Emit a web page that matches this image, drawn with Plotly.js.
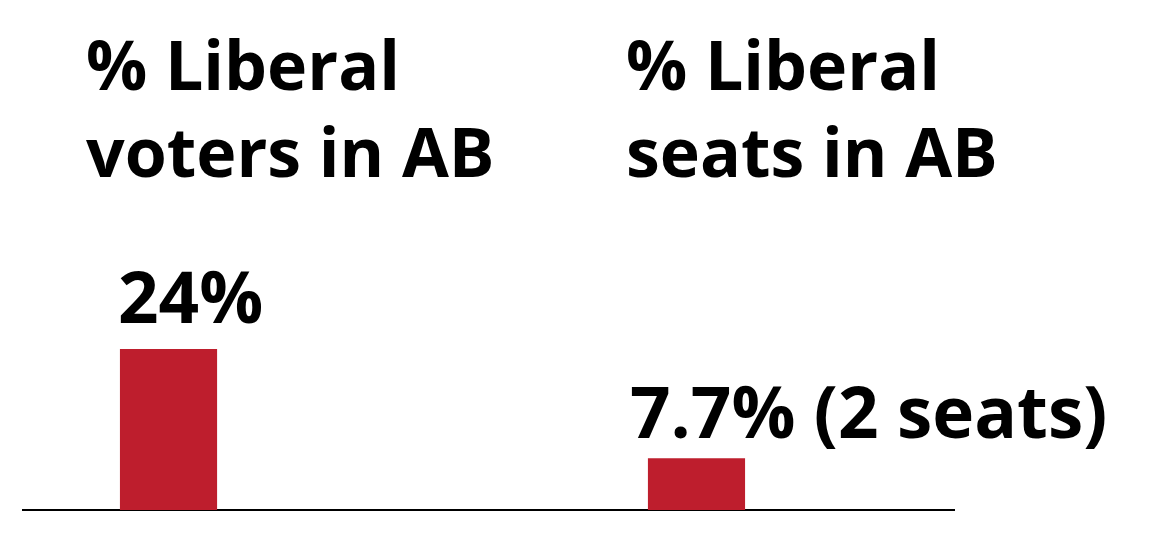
<!DOCTYPE html>
<html><head><meta charset="utf-8">
<script src="https://cdn.plot.ly/plotly-3.0.1.min.js"></script>
<style>html,body{margin:0;padding:0;background:#fff;}#chart{width:1153px;height:551px;}</style>
</head><body><div id="chart"></div>
<script>
const categories = ["voters", "seats"];
const values = [24, 7.7];
const valueLabels = ["24%", "7.7% (2 seats)"];
const titleLine1 = ["% Liberal", "% Liberal"];
const titleLine2 = ["voters in AB", "seats in AB"];

const FONT = "'Open Sans', sans-serif";
const RED = "#be1e2d";
const FS = 68;
const FSV = 71;

const annotations = [];
const titleX = [0.0664, 0.6453];
for (let i = 0; i < 2; i++) {
  annotations.push({xref:'paper', yref:'paper', x:titleX[i], y:(510-63)/510, xanchor:'left', yanchor:'middle',
    text:'<b>'+titleLine1[i]+'</b>', showarrow:false, font:{family:FONT, size:FS, color:'#000'}});
  annotations.push({xref:'paper', yref:'paper', x:titleX[i], y:(510-151)/510, xanchor:'left', yanchor:'middle',
    text:'<b>'+titleLine2[i]+'</b>', showarrow:false, font:{family:FONT, size:FS, color:'#000'}});
}
const labelShift = [-4, -20];
const labelGap = [3, -3];
for (let i = 0; i < 2; i++) {
  annotations.push({xref:'x', yref:'y', x:i - 0.092, y:values[i], xanchor:'left', yanchor:'bottom',
    xshift:labelShift[i], yshift:labelGap[i],
    text:'<b>'+valueLabels[i]+'</b>', showarrow:false, font:{family:FONT, size:FSV, color:'#000'}});
}

const trace = {
  type:'bar', x:[0,1], y:values, width:0.184,
  marker:{color:RED}, hoverinfo:'skip'
};

const layout = {
  width:1153, height:551,
  margin:{l:22, r:198, t:0, b:41},
  paper_bgcolor:'#fff', plot_bgcolor:'#fff',
  showlegend:false,
  xaxis:{range:[-0.2775, 1.4896], showgrid:false, zeroline:false, showticklabels:false, ticks:'', showline:false, fixedrange:true},
  yaxis:{range:[0, 76], showgrid:false, zeroline:true, zerolinecolor:'#000', zerolinewidth:2, showticklabels:false, ticks:'', showline:false, fixedrange:true},
  annotations:annotations
};
Plotly.newPlot('chart', [trace], layout, {displayModeBar:false, staticPlot:true});
</script></body></html>
